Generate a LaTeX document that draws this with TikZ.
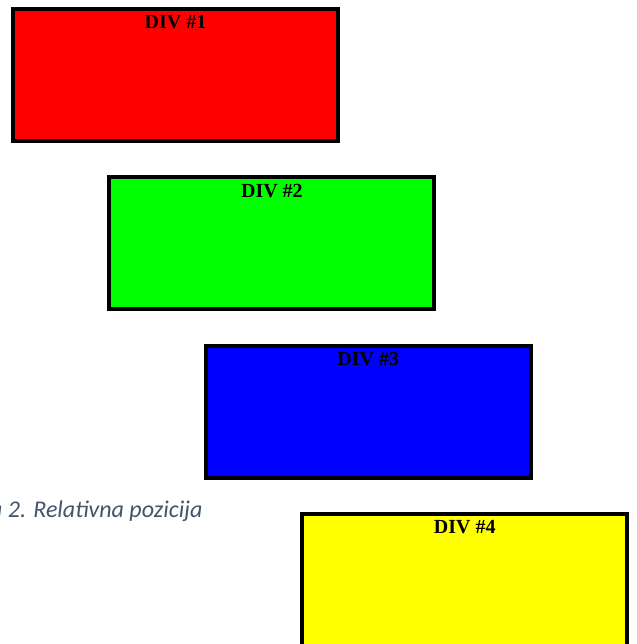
\documentclass[tikz,border=0pt]{standalone}
\usepackage{fontspec}
\setmainfont{Liberation Serif}
\newfontfamily\captionfont{Carlito}
\usetikzlibrary{
  positioning
}
\definecolor{captiongray}{HTML}{44546A}
\definecolor{divred}{HTML}{FF0000}
\definecolor{divgreen}{HTML}{00FF00}
\definecolor{divblue}{HTML}{0000FF}
\definecolor{divyellow}{HTML}{FFFF00}
\tikzset{
  % For the coloured div boxes.
  div/.style={
    draw,
    line width=4pt,
    inner sep=0pt,
    outer sep=0pt,
    minimum width=325pt,
    minimum height=132pt},
%
  % For the titles at the top of each box.
  div title/.style={
    inner sep=0pt,
    anchor=base,
    font=\fontsize{20pt}{24pt}\selectfont\bfseries},
%
  % For the figure caption, cut off at the left edge.
  figure caption/.style={
    inner sep=0pt,
    anchor=base west,
    text=captiongray,
    font=\captionfont\fontsize{24pt}{28pt}\selectfont\itshape}
}

\begin{document}
\begin{tikzpicture}[x=1pt, y=-1pt]
  \useasboundingbox (0,0) rectangle (636,644);

  \foreach \c [count=\i,
               evaluate=\i as \xpos using 175.5+96.4*(\i-1),
               evaluate=\i as \ypos using 75+168.3*(\i-1)]
    in {divred, divgreen, divblue, divyellow}
    {\node[div, fill=\c] (div\i) at (\xpos,\ypos) {};
     \node[div title] (title\i) at ([yshift=-20pt]div\i.north) {DIV \#\i};
    }

  \node[figure caption] (caption) at (-10,517) {a 2. Relativna pozicija};
\end{tikzpicture}
\end{document}
